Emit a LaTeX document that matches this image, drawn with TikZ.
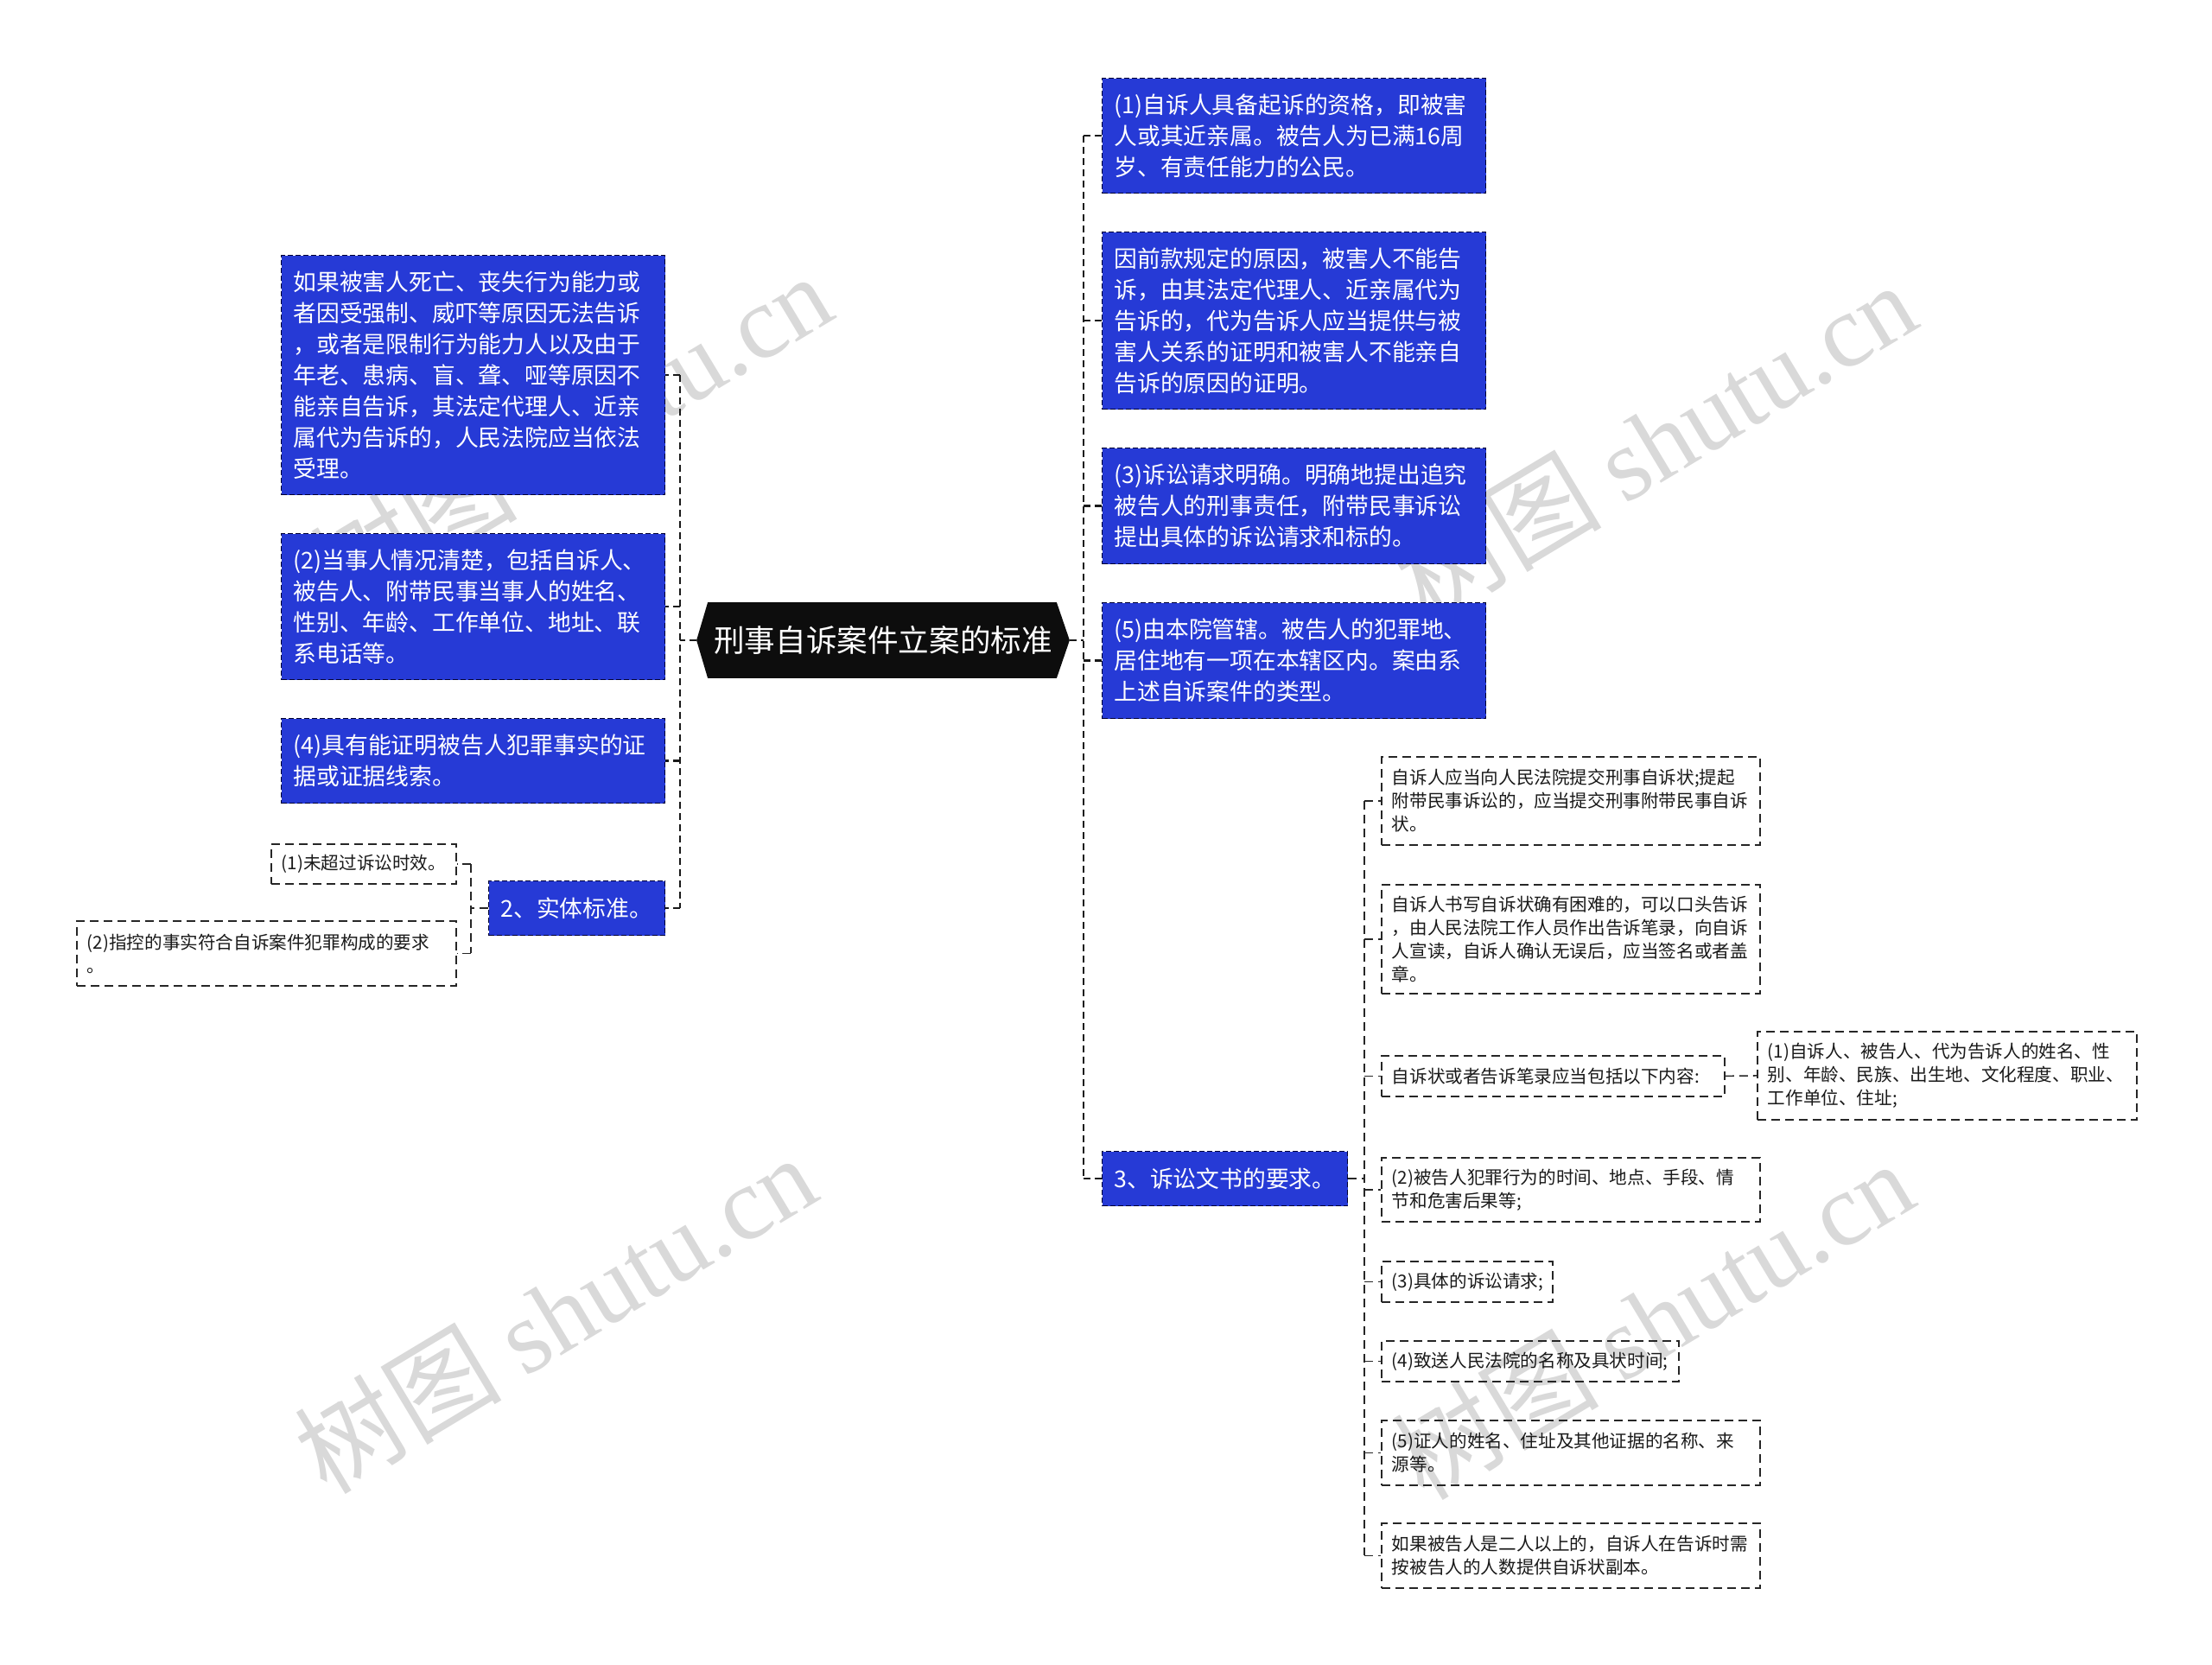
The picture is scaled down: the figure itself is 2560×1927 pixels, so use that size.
\documentclass[tikz,border=0pt]{standalone}
\usepackage{fontspec}
\setmainfont{Noto Sans CJK SC}
\newfontfamily\wmserif{Liberation Serif}
\usetikzlibrary{calc,backgrounds}
\definecolor{boxblue}{RGB}{38,58,214}

\begin{document}
\begin{tikzpicture}[
  x=0.5pt, y=-0.5pt,
  bbox/.style={anchor=north west, fill=boxblue, draw=black!80!blue, line width=0.5pt,
    dash pattern=on 3pt off 1.5pt, text=white, align=left, inner xsep=7pt, inner ysep=0pt,
    font=\fontsize{13.4pt}{18pt}\selectfont},
  sbox/.style={anchor=north west, draw=black!85, line width=0.9pt,
    dash pattern=on 5pt off 3pt, text=black!90, align=left, inner xsep=6pt, inner ysep=0pt,
    font=\fontsize{10.3pt}{13.5pt}\selectfont},
  conn/.style={draw=black!90, line width=1.2pt, dash pattern=on 4pt off 2.5pt},
  sconn/.style={draw=black!85, line width=0.8pt, dash pattern=on 5pt off 3pt},
  wm/.style={text=black!15, rotate=31, font=\fontsize{60pt}{60pt}\selectfont},
]
\useasboundingbox (0,0) rectangle (2560,1927);

% watermarks
\node[wm] (wm1) at (660,500) {树图 {\wmserif shutu.cn}};
\node[wm] (wm2) at (1915,510) {树图 {\wmserif shutu.cn}};
\node[wm] (wm3) at (642,1520) {树图 {\wmserif shutu.cn}};
\node[wm] (wm4) at (1912,1527) {树图 {\wmserif shutu.cn}};

% root
\node[text=white, minimum width=215.5pt, minimum height=43.5pt, inner sep=0pt,
  font=\fontsize{17.8pt}{20pt}\selectfont] (root) at (1022,741) {刑事自诉案件立案的标准};
\begin{scope}[on background layer]
\fill[black!95] (root.west) -- ([xshift=6.5pt]root.north west) -- ([xshift=-7.5pt]root.north east)
  -- (root.east) -- ([xshift=-7.5pt]root.south east) -- ([xshift=6.5pt]root.south west) -- cycle;
\end{scope}

% left side
\node[bbox, text width=208pt, minimum height=138.5pt] (l1) at (325,295)
  {如果被害人死亡、丧失行为能力或\\者因受强制、威吓等原因无法告诉\\，或者是限制行为能力人以及由于\\年老、患病、盲、聋、哑等原因不\\能亲自告诉，其法定代理人、近亲\\属代为告诉的，人民法院应当依法\\受理。};
\node[bbox, text width=208pt, minimum height=84.5pt] (l2) at (325,617)
  {(2)当事人情况清楚，包括自诉人、\\被告人、附带民事当事人的姓名、\\性别、年龄、工作单位、地址、联\\系电话等。};
\node[bbox, text width=208pt, minimum height=49pt] (l4) at (325,831)
  {(4)具有能证明被告人犯罪事实的证\\据或证据线索。};
\node[bbox, text width=88pt, minimum height=31.5pt] (sn) at (565,1019) {2、实体标准。};

\node[sbox, text width=95pt, minimum height=23pt] (s1) at (313,976) {(1)未超过诉讼时效。};
\node[sbox, text width=207.5pt, minimum height=37.5pt] (s2) at (88,1065)
  {(2)指控的事实符合自诉案件犯罪构成的要求\\。};

% right side
\node[bbox, text width=208pt, minimum height=66.5pt] (r1) at (1275,90)
  {(1)自诉人具备起诉的资格，即被害\\人或其近亲属。被告人为已满16周\\岁、有责任能力的公民。};
\node[bbox, text width=208pt, minimum height=102.5pt] (r2) at (1275,268)
  {因前款规定的原因，被害人不能告\\诉，由其法定代理人、近亲属代为\\告诉的，代为告诉人应当提供与被\\害人关系的证明和被害人不能亲自\\告诉的原因的证明。};
\node[bbox, text width=208pt, minimum height=67pt] (r3) at (1275,518)
  {(3)诉讼请求明确。明确地提出追究\\被告人的刑事责任，附带民事诉讼\\提出具体的诉讼请求和标的。};
\node[bbox, text width=208pt, minimum height=67pt] (r5) at (1275,697)
  {(5)由本院管辖。被告人的犯罪地、\\居住地有一项在本辖区内。案由系\\上述自诉案件的类型。};
\node[bbox, text width=128pt, minimum height=31.5pt] (rdoc) at (1275,1332) {3、诉讼文书的要求。};

\node[sbox, text width=207pt, minimum height=51pt] (da) at (1598,875)
  {自诉人应当向人民法院提交刑事自诉状;提起\\附带民事诉讼的，应当提交刑事附带民事自诉\\状。};
\node[sbox, text width=207pt, minimum height=63pt] (db) at (1598,1023)
  {自诉人书写自诉状确有困难的，可以口头告诉\\，由人民法院工作人员作出告诉笔录，向自诉\\人宣读，自诉人确认无误后，应当签名或者盖\\章。};
\node[sbox, text width=186.5pt, minimum height=23.5pt] (dc) at (1598,1221)
  {自诉状或者告诉笔录应当包括以下内容:};
\node[sbox, text width=207.5pt, minimum height=51pt] (dd) at (2033,1193)
  {(1)自诉人、被告人、代为告诉人的姓名、性\\别、年龄、民族、出生地、文化程度、职业、\\工作单位、住址;};
\node[sbox, text width=207pt, minimum height=37pt] (de) at (1598,1339)
  {(2)被告人犯罪行为的时间、地点、手段、情\\节和危害后果等;};
\node[sbox, text width=87pt, minimum height=23.5pt] (df) at (1598,1459) {(3)具体的诉讼请求;};
\node[sbox, text width=160pt, minimum height=23.5pt] (dg) at (1598,1551) {(4)致送人民法院的名称及具状时间;};
\node[sbox, text width=207pt, minimum height=37.5pt] (dh) at (1598,1643)
  {(5)证人的姓名、住址及其他证据的名称、来\\源等。};
\node[sbox, text width=207pt, minimum height=37.5pt] (di) at (1598,1762)
  {如果被告人是二人以上的，自诉人在告诉时需\\按被告人的人数提供自诉状副本。};

% connectors
\coordinate (lj) at ($(root.west)+(-19,0)$);
\coordinate (rj) at ($(root.east)+(16,0)$);
\coordinate (sj) at ($(sn.west)+(-20,0)$);
\coordinate (dj) at ($(rdoc.east)+(19,0)$);

\draw[conn] (root.west) -- (lj);
\draw[conn] (lj |- l1.east) -- (lj |- sn.east);
\foreach \n in {l1,l2,l4,sn}
  \draw[conn] (lj |- \n.east) -- (\n.east);

\draw[conn] (root.east) -- (rj);
\draw[conn] (rj |- r1.west) -- (rj |- rdoc.west);
\foreach \n in {r1,r2,r3,r5,rdoc}
  \draw[conn] (rj |- \n.west) -- (\n.west);

\draw[sconn] (sn.west) -- (sj);
\draw[sconn] (sj |- s1.east) -- (sj |- s2.east);
\foreach \n in {s1,s2}
  \draw[sconn] (sj |- \n.east) -- (\n.east);

\draw[sconn] (rdoc.east) -- (dj);
\draw[sconn] (dj |- da.west) -- (dj |- di.west);
\foreach \n in {da,db,dc,de,df,dg,dh,di}
  \draw[sconn] (dj |- \n.west) -- (\n.west);
\draw[sconn] (dc.east) -- (dd.west);

\end{tikzpicture}
\end{document}
